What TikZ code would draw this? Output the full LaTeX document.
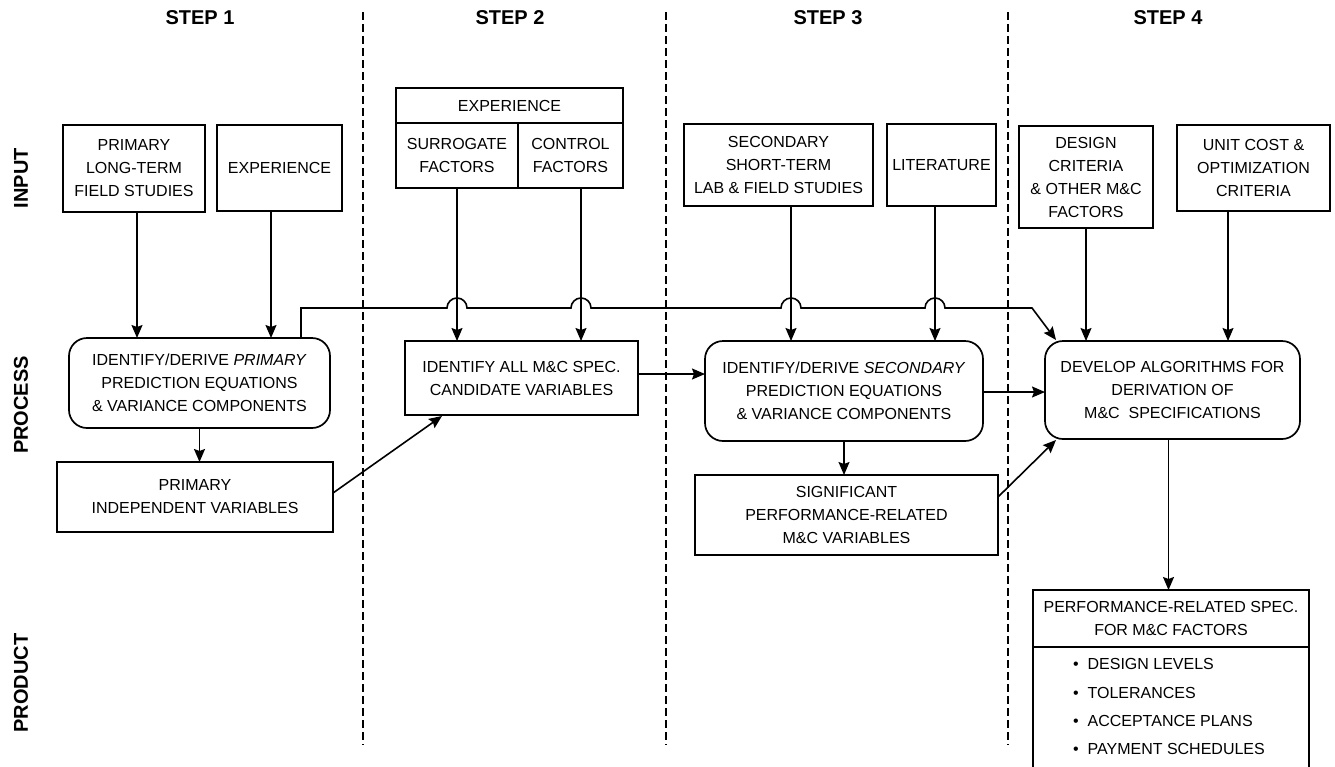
\documentclass[tikz,border=0pt]{standalone}
\usepackage{fontspec}
\setmainfont{Liberation Sans}
\usetikzlibrary{arrows.meta,calc}
\begin{document}
\begin{tikzpicture}[x=1pt,y=-1pt,
  every node/.style={font=\fontsize{16}{23}\selectfont, align=center, inner sep=0pt, outer sep=0pt},
  box/.style={draw, line width=1.7pt},
  rbox/.style={draw, line width=1.7pt, rounded corners=18pt},
  head/.style={font=\fontsize{20}{24}\selectfont\bfseries},
  rowlab/.style={font=\fontsize{20}{24}\selectfont\bfseries, rotate=90},
  arr/.style={line width=1.6pt, -{Stealth[length=13pt,width=11pt,inset=2pt]}},
  ln/.style={line width=1.6pt},
  sep/.style={line width=1.4pt, dash pattern=on 8pt off 4pt},
  item/.style={anchor=base west},
]
\fill[white] (0,0) rectangle (1335,766);
\useasboundingbox (0,0) rectangle (1335,766);

% headers
\node[head] (s1) at (200,18) {STEP 1};
\node[head] (s2) at (510,18) {STEP 2};
\node[head] (s3) at (828,18) {STEP 3};
\node[head] (s4) at (1168,18) {STEP 4};

% row labels
\node[rowlab] (lin) at (21,178) {INPUT};
\node[rowlab] (lpr) at (21,405) {PROCESS};
\node[rowlab] (lpd) at (21,683) {PRODUCT};

% separators
\draw[sep] (363,12) -- (363,745);
\draw[sep] (666,12) -- (666,745);
\draw[sep] (1008,12) -- (1008,745);

% inputs
\node[box, minimum width=142pt, minimum height=87pt] (p1in) at (134,168.5) {PRIMARY\\LONG-TERM\\FIELD STUDIES};
\node[box, minimum width=125pt, minimum height=86pt] (exp1) at (279.5,168) {EXPERIENCE};
\node[box, minimum width=227pt, minimum height=35pt] (exp2) at (509.5,105.5) {EXPERIENCE};
\node[box, minimum width=122pt, minimum height=65pt] (sur) at (457,155.5) {SURROGATE\\FACTORS};
\node[box, minimum width=105pt, minimum height=65pt] (ctl) at (570.5,155.5) {CONTROL\\FACTORS};
\node[box, minimum width=189pt, minimum height=82pt] (sec) at (778.5,165) {SECONDARY\\SHORT-TERM\\LAB \& FIELD STUDIES};
\node[box, minimum width=109pt, minimum height=82pt] (lit) at (941.5,165) {LITERATURE};
\node[box, minimum width=134pt, minimum height=102pt] (des) at (1086,177) {DESIGN\\CRITERIA\\\& OTHER M\&C\\FACTORS};
\node[box, minimum width=153pt, minimum height=86pt] (unit) at (1253.5,168) {UNIT COST \&\\OPTIMIZATION\\CRITERIA};

% process
\node[rbox, minimum width=261pt, minimum height=90pt] (r1) at (199.5,383) {IDENTIFY/DERIVE \textit{PRIMARY}\\PREDICTION EQUATIONS\\\& VARIANCE COMPONENTS};
\node[box, minimum width=276pt, minimum height=70pt] (pind) at (195,497) {PRIMARY\\INDEPENDENT VARIABLES};
\node[box, minimum width=233pt, minimum height=74pt] (idall) at (521.5,378) {IDENTIFY ALL M\&C SPEC.\\CANDIDATE VARIABLES};
\node[rbox, minimum width=278pt, minimum height=100pt] (r3) at (844,391) {IDENTIFY/DERIVE \textit{SECONDARY}\\PREDICTION EQUATIONS\\\& VARIANCE COMPONENTS};
\node[box, minimum width=303pt, minimum height=80pt] (sig) at (846.5,515) {SIGNIFICANT\\PERFORMANCE-RELATED\\M\&C VARIABLES};
\node[rbox, minimum width=255pt, minimum height=98pt] (dev) at (1172.5,390) {DEVELOP ALGORITHMS FOR\\DERIVATION OF\\M\&C\ \ SPECIFICATIONS};

% product
\node[box, minimum width=276pt, minimum height=57pt] (prodh) at (1171,618.5) {PERFORMANCE-RELATED SPEC.\\FOR M\&C FACTORS};
\node[box, minimum width=276pt, minimum height=160pt, anchor=north] (prodb) at (prodh.south) {};
\node[item] (b1) at (1073,669) {\textbullet\hspace{9pt}DESIGN LEVELS};
\node[item] (b2) at (1073,698) {\textbullet\hspace{9pt}TOLERANCES};
\node[item] (b3) at (1073,726) {\textbullet\hspace{9pt}ACCEPTANCE PLANS};
\node[item] (b4) at (1073,754) {\textbullet\hspace{9pt}PAYMENT SCHEDULES};

% input arrows
\coordinate (a1) at ($(p1in.south)+(3,0)$);
\coordinate (a2) at ($(exp1.south)+(-8.5,0)$);
\coordinate (a3) at (sur.south);
\coordinate (a4) at ($(ctl.south)+(10.5,0)$);
\coordinate (a5) at ($(sec.south)+(12.5,0)$);
\coordinate (a6) at ($(lit.south)+(-6.5,0)$);
\coordinate (a7) at (des.south);
\coordinate (a8) at ($(unit.south)+(-25.5,0)$);
\draw[arr] (a1) -- (a1 |- r1.north);
\draw[arr] (a2) -- (a2 |- r1.north);
\draw[arr] (a3) -- (a3 |- idall.north);
\draw[arr] (a4) -- (a4 |- idall.north);
\draw[arr] (a5) -- (a5 |- r3.north);
\draw[arr] (a6) -- (a6 |- r3.north);
\draw[arr] (a7) -- (a7 |- dev.north);
\draw[arr] (a8) -- (a8 |- dev.north);

% long feedback line with hops
\coordinate (hs) at ($(r1.north)+(101.5,0)$);
\coordinate (he) at (1056,340);
\draw[arr] (hs) -- (301,308)
  -- (447,308) arc[start angle=180, end angle=360, radius=10]
  -- (571,308) arc[start angle=180, end angle=360, radius=10]
  -- (781,308) arc[start angle=180, end angle=360, radius=10]
  -- (925,308) arc[start angle=180, end angle=360, radius=10]
  -- (1032,308) -- (he);

% process connectors
\draw[arr] (r1.south) -- (r1.south |- pind.north);
\coordinate (c0) at ($(pind.east)+(0,-4)$);
\draw[arr] (c0) -- (442,416);
\coordinate (c1) at ($(idall.east)+(0,-4)$);
\draw[arr] (c1) -- (c1 -| r3.west);
\coordinate (c2) at ($(r3.east)+(0,1)$);
\draw[arr] (c2) -- (c2 -| dev.west);
\draw[arr] (r3.south) -- (r3.south |- sig.north);
\coordinate (c3) at ($(sig.east)+(0,-18)$);
\draw[arr] (c3) -- (1056,440);
\coordinate (c4) at ($(dev.south)+(-4,0)$);
\draw[arr] (c4) -- (c4 |- prodh.north);
\end{tikzpicture}
\end{document}
